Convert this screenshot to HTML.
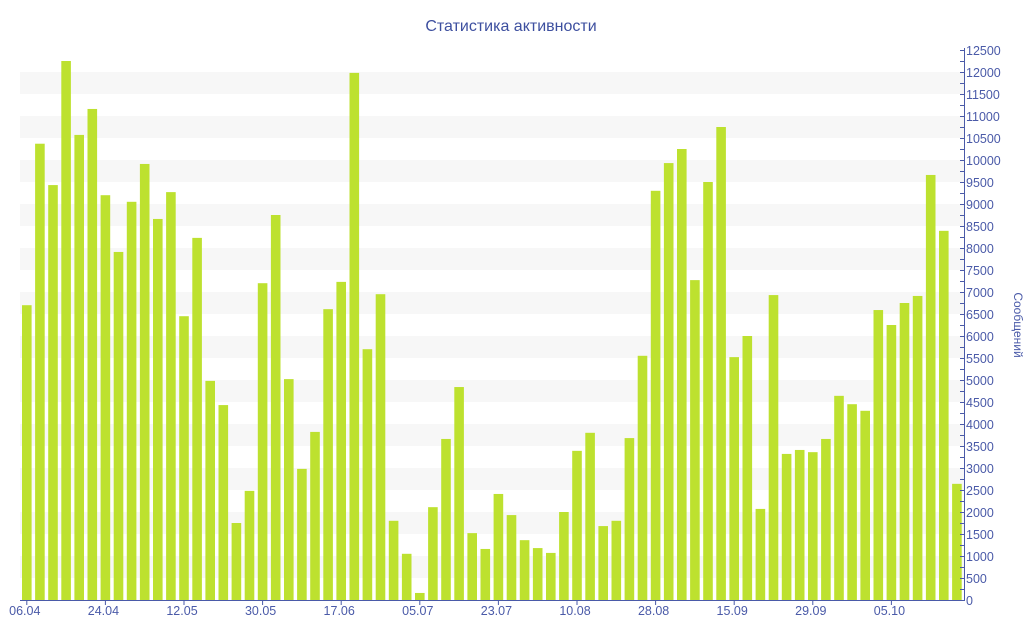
<!DOCTYPE html>
<html><head><meta charset="utf-8"><style>
html,body{margin:0;padding:0;background:#fff;}
svg{display:block;font-family:"Liberation Sans","DejaVu Sans",sans-serif;}
</style></head><body>
<svg id="c" width="1024" height="640" xmlns="http://www.w3.org/2000/svg">
<text x="511" y="31" text-anchor="middle" font-size="16" fill="#3d4f9f">Статистика активности</text>
<g id="bands"></g>
<g id="bars" fill="#bde12f"></g>
<g id="axis" stroke="#4a5aa8" stroke-width="1"></g>
<g id="lab" font-size="12.5" fill="#4a5aa8"></g>
<text transform="translate(1014,325) rotate(90)" text-anchor="middle" font-size="12" fill="#4a5aa8">Сообщений</text>
</svg>
<script>
var v=[6700,10370,9430,12250,10570,11160,9200,7910,9050,9910,8660,9270,6450,8230,4980,4430,1750,2480,7200,8750,5020,2980,3820,6610,7230,11980,5700,6950,1800,1050,160,2110,3660,4840,1520,1160,2410,1930,1360,1180,1070,2000,3390,3800,1680,1800,3680,5550,9300,9930,10250,7270,9500,10750,5520,6000,2070,6930,3320,3410,3360,3660,4640,4450,4300,6590,6250,6750,6910,9660,8390,2640];
var ns="http://www.w3.org/2000/svg";
function el(p,t,a,txt){var e=document.createElementNS(ns,t);for(var k in a)e.setAttribute(k,a[k]);if(txt)e.textContent=txt;document.getElementById(p).appendChild(e);}
var y0=600,s=550/12500;
for(var b=500;b<12500;b+=1000){el("bands","rect",{x:20,y:y0-(b+500)*s,width:944,height:500*s,fill:"#f7f7f7"});}
v.forEach(function(d,i){var h=d*s;el("bars","rect",{x:22+13.1*i,y:y0-h,width:9.6,height:h});});
el("axis","line",{x1:20,y1:600.5,x2:964,y2:600.5});
el("axis","line",{x1:964.5,y1:48,x2:964.5,y2:601});
for(var t=0;t<=12500;t+=250){var y=Math.round(y0-t*s)+0.5;el("axis","line",{x1:960,y1:y,x2:964,y2:y});
if(t%500==0)el("lab","text",{x:966,y:y+4.5},String(t));}
var L=["06.04","24.04","12.05","30.05","17.06","05.07","23.07","10.08","28.08","15.09","29.09","05.10"];
L.forEach(function(l,j){var x=26.8+13.1*6*j;el("axis","line",{x1:x,y1:600,x2:x,y2:605});el("lab","text",{x:x-2,y:615,"text-anchor":"middle"},l);});
</script>
</body></html>
